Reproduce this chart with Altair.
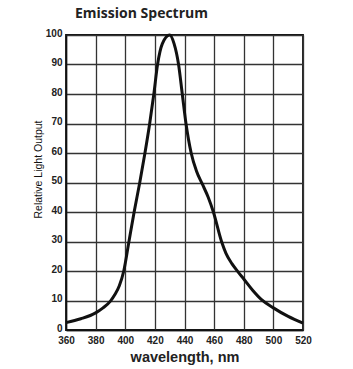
import altair as alt
import pandas as pd

wavelength = [360, 370, 380, 385, 390, 393, 396, 399, 402.5, 406, 409.8, 413.3, 416.5, 419.3, 421.8,
              425, 430, 433, 436, 438.5, 441, 444.5, 448, 452, 456, 459.5, 465, 468, 472, 476, 480,
              486, 492, 500, 510, 520]
output = [2.5, 3.8, 5.8, 7.5, 9.8, 12, 15, 20, 30, 40, 50, 60, 70, 80, 90,
          97, 100, 97, 90, 80, 70, 60, 54, 49.5, 45, 40, 30, 26, 22.5, 19.8, 17.3,
          13.5, 10.3, 7.5, 4.6, 2.3]

x_ticks = [360, 380, 400, 420, 440, 460, 480, 500, 520]
y_ticks = [0, 10, 20, 30, 40, 50, 60, 70, 80, 90, 100]

df = pd.DataFrame({"wavelength": wavelength, "output": output})

chart = alt.Chart(df).mark_line(
    color="#111111", strokeWidth=3, interpolate="monotone"
).encode(
    x=alt.X("wavelength:Q", scale=alt.Scale(domain=[360, 520], nice=False),
            axis=alt.Axis(values=x_ticks, title="wavelength, nm", grid=True,
                          ticks=False, labelPadding=5, titlePadding=5,
                          labelFont="Liberation Sans", labelFontSize=10, labelFontWeight="bold",
                          labelColor="#222222", labelFlush=False,
                          titleFont="Liberation Sans", titleFontSize=14.5, titleFontWeight="bold",
                          titleColor="#222222")),
    y=alt.Y("output:Q", scale=alt.Scale(domain=[0, 100], nice=False),
            axis=alt.Axis(values=y_ticks, title="Relative Light Output", grid=True,
                          ticks=False, labelPadding=4, titlePadding=2, labelOffset=-2,
                          labelFont="Liberation Sans", labelFontSize=10, labelFontWeight="bold",
                          labelColor="#222222", titleY=134,
                          titleFont="Liberation Sans", titleFontSize=10.5, titleFontWeight="normal",
                          titleColor="#111111")),
).properties(
    width=237, height=295,
    autosize="none",
    padding={"left": 66, "top": 35, "right": 50, "bottom": 39},
    title=alt.TitleParams("Emission Spectrum", anchor="start", frame="group", dx=9, offset=7,
                          font="Open Sans", fontSize=14, fontWeight="bold", color="#222222"),
).configure_axis(
    gridColor="#333333", gridWidth=1.3, gridOpacity=1,
    domainColor="#111111", domainWidth=1.5,
).configure_view(stroke="#111111", strokeWidth=1.8)

chart.save("out.html", embed_options={"renderer": "svg", "actions": False})
